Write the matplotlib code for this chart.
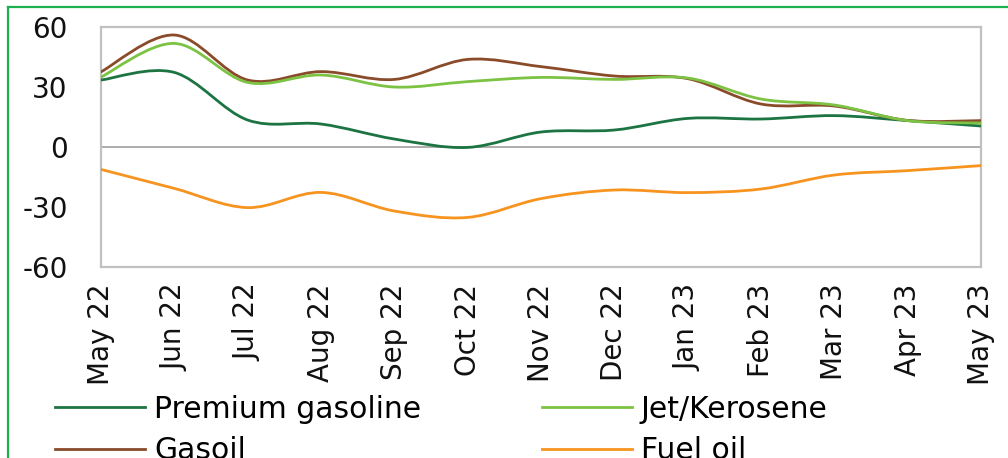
import numpy as np
import matplotlib.pyplot as plt
from matplotlib.path import Path
from matplotlib.patches import PathPatch
from matplotlib.lines import Line2D

# Monthly spreads, May 2022 - May 2023
months = ['May 22', 'Jun 22', 'Jul 22', 'Aug 22', 'Sep 22', 'Oct 22', 'Nov 22',
          'Dec 22', 'Jan 23', 'Feb 23', 'Mar 23', 'Apr 23', 'May 23']
premium_gasoline = [33.5, 37.3, 13.5, 11.5, 4.0, -0.2, 7.5, 8.5, 14.3, 14.0, 15.7, 13.2, 10.5]
jet_kerosene = [35.0, 51.8, 32.3, 36.0, 30.0, 32.7, 34.8, 33.8, 34.5, 24.0, 21.0, 13.2, 12.0]
gasoil = [37.6, 56.0, 33.5, 37.7, 33.8, 43.8, 40.2, 35.5, 34.2, 21.5, 20.5, 13.3, 13.2]
fuel_oil = [-11.2, -20.7, -30.3, -22.7, -32.0, -35.2, -25.8, -21.5, -22.8, -21.0, -14.0, -11.8, -9.3]
y_ticks = [-60, -30, 0, 30, 60]

series = [
    ('Premium gasoline', premium_gasoline, '#1c7442'),
    ('Gasoil', gasoil, '#8a4b2a'),
    ('Jet/Kerosene', jet_kerosene, '#7cc243'),
    ('Fuel oil', fuel_oil, '#f7941f'),
]


def smooth_path(x, y):
    # cubic bezier segments through every point (spreadsheet-style smoothed line)
    pts = np.column_stack([x, y]).astype(float)
    verts = [pts[0]]
    codes = [Path.MOVETO]
    n = len(pts)
    for i in range(n - 1):
        p0 = pts[max(i - 1, 0)]
        p1 = pts[i]
        p2 = pts[i + 1]
        p3 = pts[min(i + 2, n - 1)]
        c1 = p1 + (p2 - p0) / 6.0
        c2 = p2 - (p3 - p1) / 6.0
        verts += [c1, c2, p2]
        codes += [Path.CURVE4] * 3
    return Path(verts, codes)


plt.rcParams['font.family'] = ['DejaVu Sans']
plt.rcParams['axes.unicode_minus'] = False

fig = plt.figure(figsize=(10.08, 4.58), dpi=100)
ax = fig.add_axes([0.1002, 0.417, 0.8730, 0.524])

x = np.arange(len(months))
ax.axhline(0, color='#a6a6a6', lw=1.3, zorder=1)

handles = {}
for name, vals, col in series:
    ax.add_patch(PathPatch(smooth_path(x, vals), fill=False, edgecolor=col,
                           lw=2.0, capstyle='round', zorder=3))
    handles[name] = Line2D([], [], color=col, lw=2.0)

ax.set_xlim(0, len(months) - 1)
ax.set_ylim(-60, 60)
ax.set_yticks(y_ticks)
ax.set_xticks(x)
ax.set_xticklabels(months, rotation=90)
ax.tick_params(axis='both', length=0, labelsize=20, colors='#111111')
ax.tick_params(axis='y', pad=24)
ax.tick_params(axis='x', pad=12)
for s in ax.spines.values():
    s.set_color('#c0c0c0')
    s.set_linewidth(1.6)

# second legend row runs off the bottom edge of the panel
order = ['Premium gasoline', 'Gasoil', 'Jet/Kerosene', 'Fuel oil']
fig.legend([handles[k] for k in order], order, ncol=2, frameon=False,
           loc='upper left', bbox_to_anchor=(0.055, 0.138),
           fontsize=21.5, handlelength=3.0, handletextpad=0.3,
           columnspacing=4.05, labelspacing=0.42, borderaxespad=0, borderpad=0)

# green border around the figure panel
fig.add_artist(Line2D([8 / 1008, 1.0], [1 - 7 / 458, 1 - 7 / 458],
                      transform=fig.transFigure, color='#1db04f', lw=1.6))
fig.add_artist(Line2D([8 / 1008, 8 / 1008], [0, 1 - 7 / 458],
                      transform=fig.transFigure, color='#1db04f', lw=1.6))

fig.savefig('out.png', dpi=100)
